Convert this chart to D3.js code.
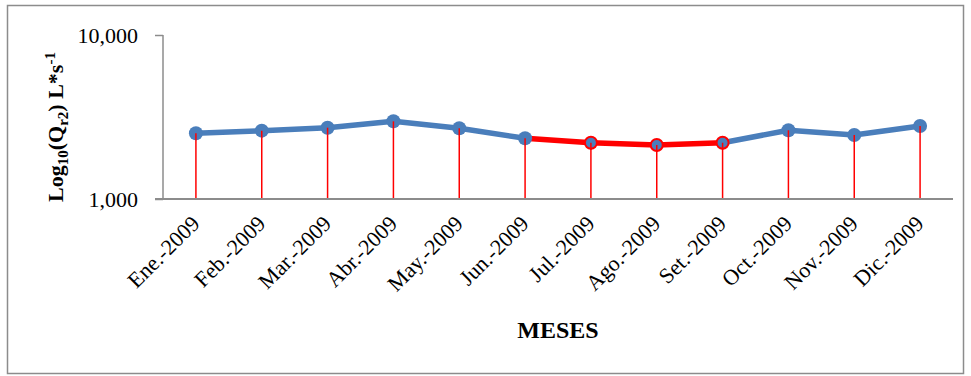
<!DOCTYPE html>
<html><head><meta charset="utf-8">
<script src="https://cdn.jsdelivr.net/npm/d3@7"></script>
<style>body{margin:0;background:#fff}svg{display:block}</style>
</head><body>
<script>
const categories = ["Ene.-2009","Feb.-2009","Mar.-2009","Abr.-2009","May.-2009","Jun.-2009","Jul.-2009","Ago.-2009","Set.-2009","Oct.-2009","Nov.-2009","Dic.-2009"];
const values = [2515, 2610, 2722, 2976, 2698, 2345, 2204, 2134, 2204, 2624, 2456, 2787];
const highlighted = [false,false,false,false,false,false,true,true,true,false,false,false];
const yTicks = [1000, 10000];

const W = 971, H = 376;
const svg = d3.select("body").append("svg").attr("width", W).attr("height", H);
svg.append("rect").attr("x",7.5).attr("y",5.5).attr("width",956).attr("height",368)
  .attr("fill","#fff").attr("stroke","#8c8c8c").attr("stroke-width",1.5);

const m = {left:163, right:953, top:35, bottom:199};
const x = d3.scaleBand().domain(categories).range([m.left, m.right]);
const y = d3.scaleLog().domain([1000, 10000]).range([m.bottom, m.top]);
const cx = d => x(d) + x.bandwidth()/2;

// y axis
const yAxis = svg.append("g").attr("transform",`translate(${m.left},0)`)
  .call(d3.axisLeft(y).tickValues(yTicks).tickFormat(d3.format(",")).tickSize(8).tickPadding(17));
yAxis.select(".domain").attr("stroke","#8c8c8c").attr("stroke-width",1.5).attr("d",`M0,${m.top}V${m.bottom}`);
yAxis.selectAll(".tick line").attr("stroke","#8c8c8c").attr("stroke-width",1.5);
yAxis.selectAll(".tick text").attr("font-family","Liberation Serif").attr("font-size",22).attr("fill","#000");

// stems
svg.append("g").selectAll("line").data(categories).join("line")
  .attr("x1",cx).attr("x2",cx).attr("y1",(d,i)=>y(values[i])).attr("y2",m.bottom)
  .attr("stroke","#ff0000").attr("stroke-width",1.5);

// x axis
const xAxis = svg.append("g").attr("transform",`translate(0,${m.bottom})`)
  .call(d3.axisBottom(x).tickSize(0).tickPadding(0));
xAxis.select(".domain").attr("stroke","#8c8c8c").attr("stroke-width",2).attr("d",`M${m.left-8},0H${m.right}`);
xAxis.selectAll(".tick text").attr("font-family","Liberation Serif").attr("font-size",22).attr("fill","#000")
  .attr("text-anchor","end").attr("dy",0)
  .attr("transform","translate(5,26) rotate(-45)");

// line segments: red where both ends touch the highlighted stretch (Jun→Set)
const pts = categories.map((c,i)=>[cx(c), y(values[i])]);
const line = d3.line();
for (let i=0;i<pts.length-1;i++){
  const isRed = highlighted[i+1] && (highlighted[i] || highlighted[i+2]);
  svg.append("path").attr("d", line([pts[i],pts[i+1]])).attr("fill","none")
    .attr("stroke", isRed ? "#ff0000" : "#4a7ebb").attr("stroke-width",5.5).attr("stroke-linecap","round");
}
// markers
svg.append("g").selectAll("circle").data(categories).join("circle")
  .attr("cx",cx).attr("cy",(d,i)=>y(values[i]))
  .attr("r",(d,i)=>highlighted[i]?6:7)
  .attr("fill","#4a7ebb")
  .attr("stroke",(d,i)=>highlighted[i]?"#ff0000":"none").attr("stroke-width",2);
// stems visible over markers
svg.append("g").selectAll("line").data(categories).join("line")
  .attr("x1",cx).attr("x2",cx).attr("y1",(d,i)=>y(values[i])).attr("y2",(d,i)=>y(values[i])+7)
  .attr("stroke","#ff0000").attr("stroke-width",1.5);

// titles
svg.append("text").attr("x",558).attr("y",338).attr("text-anchor","middle")
  .attr("font-family","Liberation Serif").attr("font-weight","bold").attr("font-size",24).text("MESES");
const yt = svg.append("text").attr("transform","translate(63,127) rotate(-90)").attr("text-anchor","middle")
  .attr("font-family","Liberation Serif").attr("font-weight","bold").attr("font-size",22);
yt.append("tspan").text("Log");
yt.append("tspan").attr("font-size",15).attr("dy",5).text("10");
yt.append("tspan").attr("dy",-5).text("(Q");
yt.append("tspan").attr("font-size",15).attr("dy",5).text("r2");
yt.append("tspan").attr("dy",-5).text(") L*s");
yt.append("tspan").attr("font-size",15).attr("dy",-8).text("-1");
</script>
</body></html>
